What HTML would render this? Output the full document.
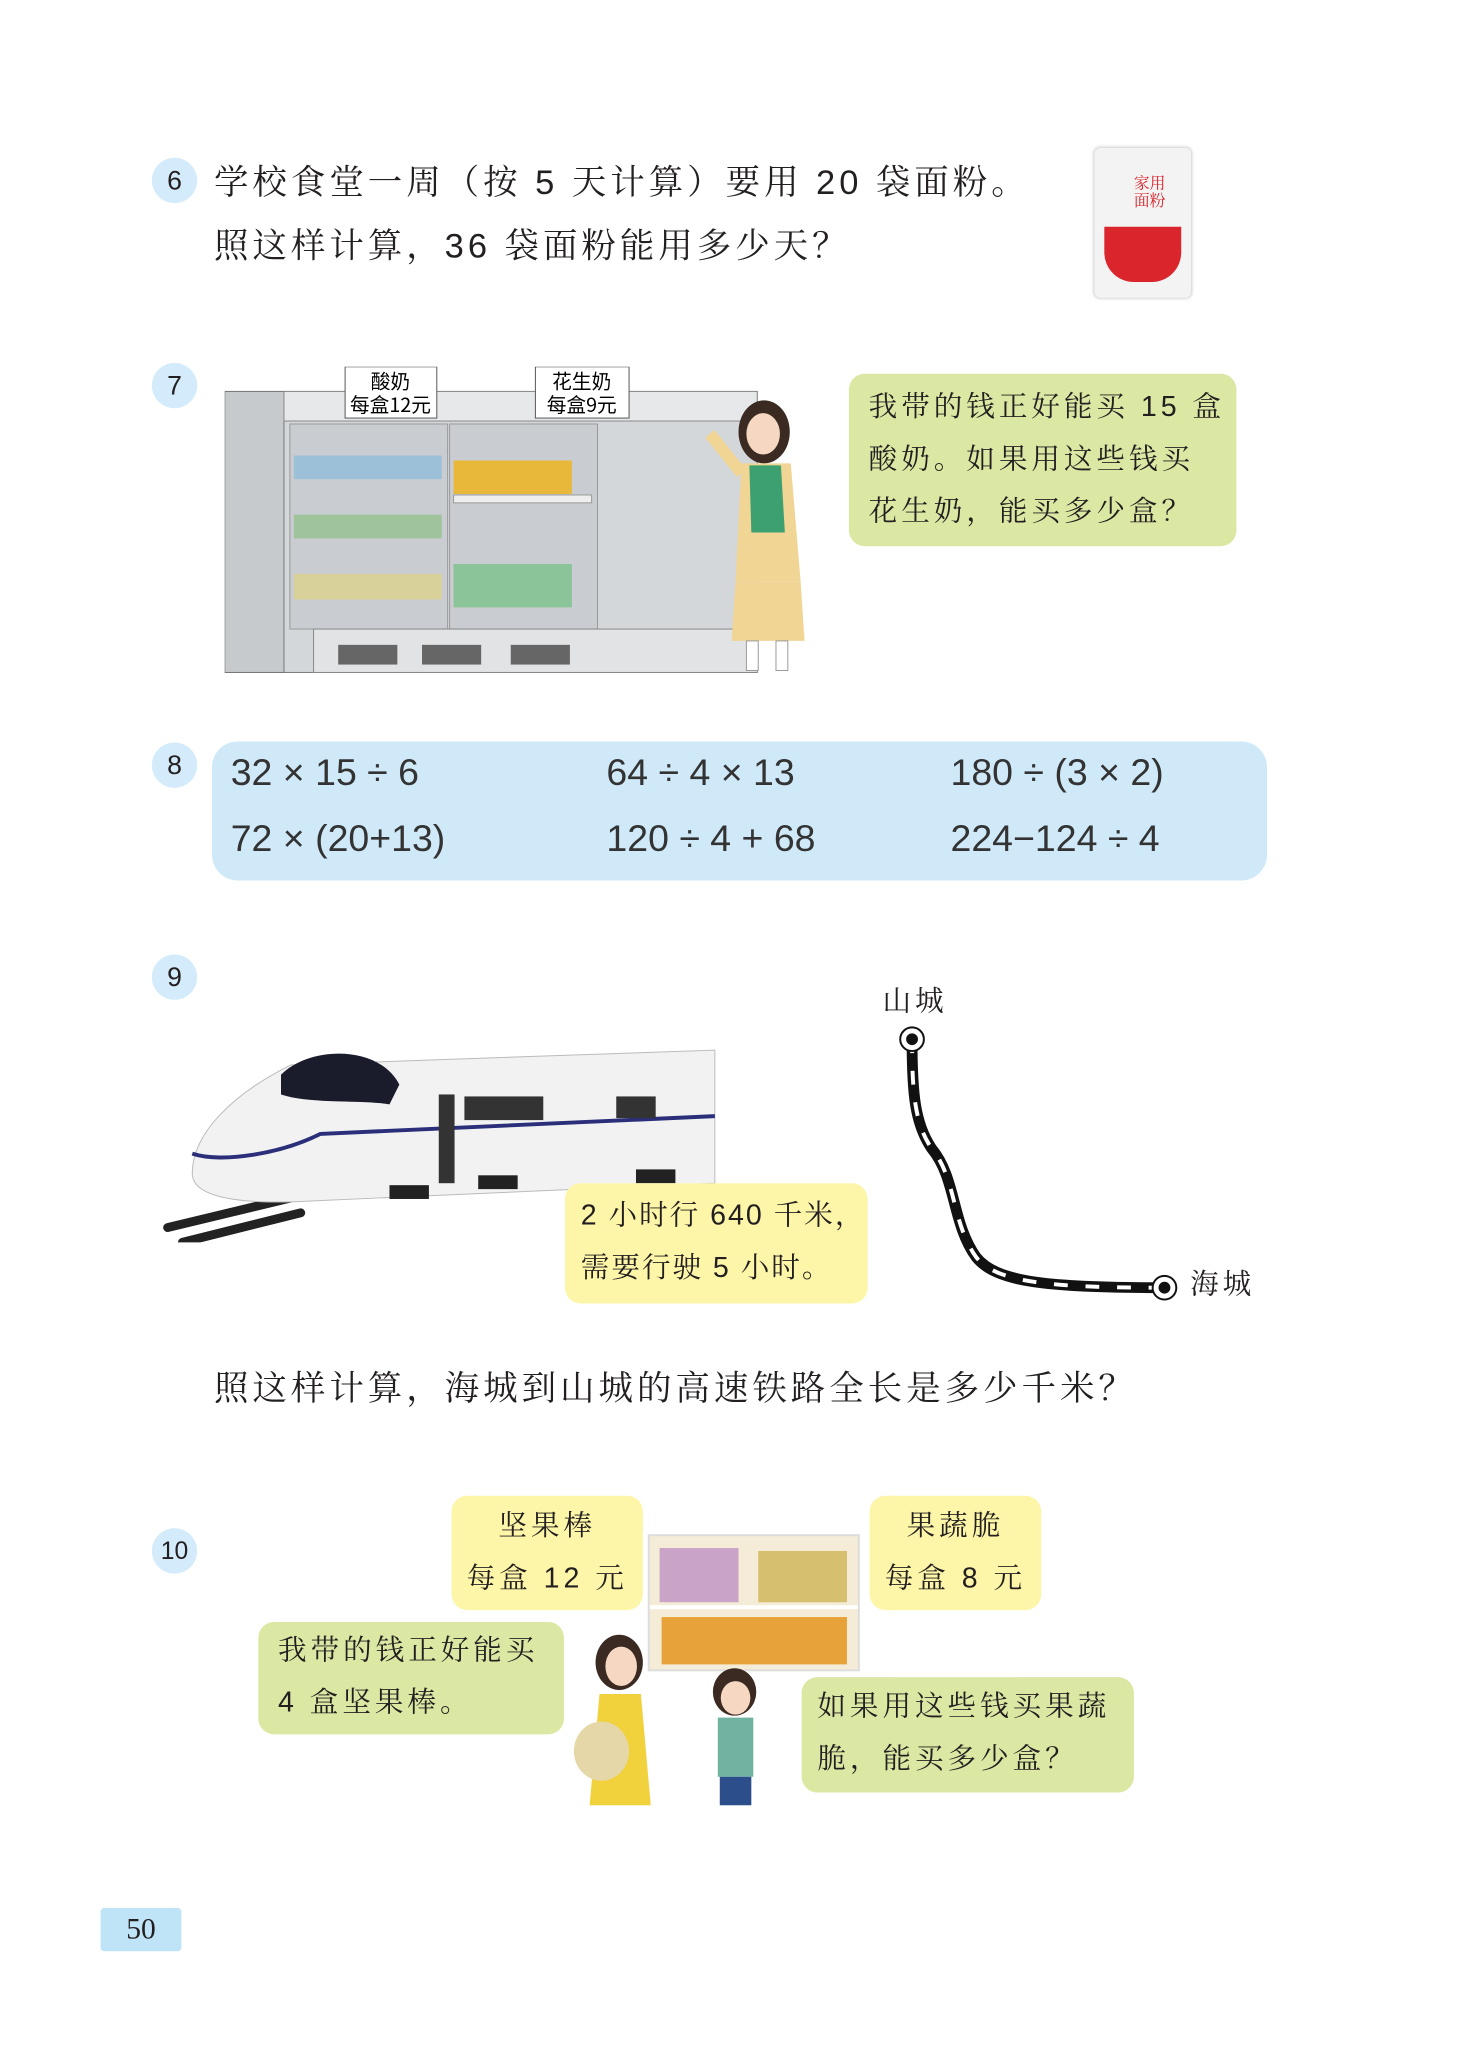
<!DOCTYPE html>
<html><head><meta charset="utf-8">
<style>
body{margin:0;background:#fff;}
#o{position:relative;width:1457px;height:2048px;overflow:hidden;background:#fff;}
#p{position:absolute;left:0;top:0;width:1457px;height:2048px;transform:scale(0.986);transform-origin:0 0;font-family:"Liberation Sans","Noto Serif CJK SC",serif;color:#231f20;}
.a{position:absolute;}
.num{position:absolute;width:46px;height:46px;border-radius:50%;background:#d3ebfa;font-family:"Liberation Sans",sans-serif;font-size:27px;text-align:center;line-height:46px;}
.t{position:absolute;font-size:35px;letter-spacing:4px;white-space:nowrap;font-family:"Liberation Sans","Noto Serif CJK SC",serif;}
.bub{position:absolute;border-radius:16px;font-size:29px;letter-spacing:4px;line-height:53px;white-space:nowrap;font-family:"Liberation Sans","Noto Serif CJK SC",serif;}
.g{background:#dbe8a4;}
.y{background:#fdf6a8;}
.m{position:absolute;font-size:38px;font-family:"Liberation Sans",sans-serif;white-space:nowrap;color:#333;}
</style></head><body><div id="o"><div id="p">

<div class="num" style="left:154px;top:160px;">6</div>
<div class="t" style="left:217px;top:158px;">学校食堂一周（按 5 天计算）要用 20 袋面粉。</div>
<div class="t" style="left:217px;top:222px;">照这样计算，36 袋面粉能用多少天？</div>
<div class="a" style="left:1110px;top:150px;width:98px;height:152px;background:#f3f3f3;border-radius:6px;box-shadow:0 0 4px #bbb;">
 <div class="a" style="left:10px;top:80px;width:78px;height:56px;background:#d9252b;border-radius:0 0 30px 30px;"></div>
 <div class="a" style="left:40px;top:28px;font-size:16px;color:#d9252b;line-height:18px;">家用<br>面粉</div>
</div>

<div class="num" style="left:154px;top:368px;">7</div>
<svg class="a" style="left:228px;top:372px" width="545" height="312">
 <rect x="0" y="25" width="540" height="285" fill="#d4d7da" stroke="#777"/>
 <rect x="0" y="25" width="60" height="285" fill="#c7cacd" stroke="#777"/>
 <rect x="60" y="25" width="480" height="30" fill="#e6e8ea" stroke="#888"/>
 <rect x="66" y="58" width="160" height="208" fill="#c9ccd0" stroke="#999"/>
 <rect x="228" y="58" width="150" height="208" fill="#c9ccd0" stroke="#999"/>
 <rect x="70" y="90" width="150" height="24" fill="#9cc0d8"/>
 <rect x="70" y="150" width="150" height="24" fill="#9fc39a"/>
 <rect x="70" y="210" width="150" height="26" fill="#d8d19a"/>
 <rect x="232" y="95" width="120" height="34" fill="#e8b83a"/>
 <rect x="232" y="130" width="140" height="8" fill="#eee" stroke="#999"/>
 <rect x="232" y="200" width="120" height="44" fill="#8cc49a"/>
 <rect x="90" y="266" width="450" height="44" fill="#e1e3e5" stroke="#888"/>
 <rect x="115" y="282" width="60" height="20" fill="#666"/><rect x="200" y="282" width="60" height="20" fill="#666"/><rect x="290" y="282" width="60" height="20" fill="#666"/>
 <rect x="122" y="0" width="93" height="52" fill="#fff" stroke="#555"/>
 <rect x="315" y="0" width="95" height="52" fill="#fff" stroke="#555"/>
 <text x="168" y="22" font-size="20" text-anchor="middle" font-family="Noto Sans CJK SC">酸奶</text>
 <text x="168" y="46" font-size="20" text-anchor="middle" font-family="Noto Sans CJK SC">每盒12元</text>
 <text x="362" y="22" font-size="20" text-anchor="middle" font-family="Noto Sans CJK SC">花生奶</text>
 <text x="362" y="46" font-size="20" text-anchor="middle" font-family="Noto Sans CJK SC">每盒9元</text>
</svg>
<svg class="a" style="left:712px;top:400px" width="130" height="290">
 <ellipse cx="63" cy="38" rx="26" ry="32" fill="#3a2a22"/>
 <ellipse cx="62" cy="40" rx="17" ry="21" fill="#f6d8c2"/>
 <path d="M40 70 L90 70 L100 190 L34 190 Z" fill="#f0d594"/>
 <path d="M48 72 L80 72 L84 140 L50 140 Z" fill="#3da070"/>
 <path d="M34 190 L100 190 L104 250 L30 250Z" fill="#f0d594"/>
 <rect x="45" y="250" width="12" height="30" fill="#fff" stroke="#999"/><rect x="75" y="250" width="12" height="30" fill="#fff" stroke="#999"/>
 <path d="M40 80 L8 40" stroke="#f0d594" stroke-width="12"/>
</svg>
<div class="bub g" style="left:861px;top:379px;width:393px;height:175px;padding:8px 0 0 20px;box-sizing:border-box;">我带的钱正好能买 15 盒<br>酸奶。如果用这些钱买<br>花生奶，能买多少盒？</div>

<div class="num" style="left:154px;top:753px;">8</div>
<div class="a" style="left:215px;top:752px;width:1070px;height:141px;background:#cfe9f9;border-radius:26px;"></div>
<div class="m" style="left:234px;top:763px;">32 × 15 ÷ 6</div>
<div class="m" style="left:615px;top:763px;">64 ÷ 4 × 13</div>
<div class="m" style="left:964px;top:763px;">180 ÷ (3 × 2)</div>
<div class="m" style="left:234px;top:830px;">72 × (20+13)</div>
<div class="m" style="left:615px;top:830px;">120 ÷ 4 + 68</div>
<div class="m" style="left:964px;top:830px;">224−124 ÷ 4</div>

<div class="num" style="left:154px;top:968px;">9</div>
<svg class="a" style="left:165px;top:1040px" width="570" height="220">
 <path d="M5 205 L130 175 M20 220 L140 190" stroke="#222" stroke-width="9" stroke-linecap="round"/>
 <path d="M30 150 C30 110 70 70 130 40 L560 25 L560 160 L150 178 C80 182 30 175 30 150Z" fill="#f2f2f2" stroke="#bbb"/>
 <path d="M120 50 C150 20 220 20 240 60 L230 80 C200 75 150 80 120 70Z" fill="#1a1c2c"/>
 <path d="M30 130 C60 140 120 130 160 110 L560 92" stroke="#2b2f7a" stroke-width="4" fill="none"/>
 <rect x="280" y="70" width="16" height="90" fill="#333"/>
 <rect x="306" y="72" width="80" height="24" fill="#333"/><rect x="460" y="72" width="40" height="22" fill="#333"/>
 <rect x="230" y="162" width="40" height="14" fill="#222"/><rect x="320" y="152" width="40" height="14" fill="#222"/><rect x="480" y="146" width="40" height="14" fill="#222"/>
</svg>
<div class="bub y" style="left:573px;top:1200px;width:307px;height:122px;padding:7px 0 0 16px;box-sizing:border-box;letter-spacing:2px;">2 小时行 640 千米，<br>需要行驶 5 小时。</div>
<svg class="a" style="left:900px;top:1030px" width="300" height="300">
 <path d="M25 24 C25 80 28 110 45 135 C70 165 65 210 90 245 C110 270 160 276 281 276" stroke="#111" stroke-width="11" fill="none"/>
 <path d="M25 24 C25 80 28 110 45 135 C70 165 65 210 90 245 C110 270 160 276 281 276" stroke="#fff" stroke-width="4" stroke-dasharray="14 18" fill="none"/>
 <circle cx="25" cy="24" r="12" fill="#fff" stroke="#111" stroke-width="2"/><circle cx="25" cy="24" r="6" fill="#111"/>
 <circle cx="281" cy="276" r="12" fill="#fff" stroke="#111" stroke-width="2"/><circle cx="281" cy="276" r="6" fill="#111"/>
</svg>
<div class="t" style="left:895px;top:993px;font-size:29px;">山城</div>
<div class="t" style="left:1207px;top:1280px;font-size:29px;">海城</div>
<div class="t" style="left:217px;top:1381px;">照这样计算，海城到山城的高速铁路全长是多少千米？</div>

<div class="num" style="left:154px;top:1550px;font-size:25px;">10</div>
<div class="bub y" style="left:458px;top:1517px;width:194px;height:116px;text-align:center;padding-top:5px;box-sizing:border-box;">坚果棒<br>每盒 12 元</div>
<div class="a" style="left:657px;top:1556px;width:215px;height:139px;background:#f4ecd6;border:2px solid #ddd;box-sizing:border-box;">
 <div class="a" style="left:10px;top:12px;width:80px;height:55px;background:#c9a4c8;"></div>
 <div class="a" style="left:110px;top:15px;width:90px;height:52px;background:#d6c070;"></div>
 <div class="a" style="left:0;top:70px;width:211px;height:4px;background:#fff;"></div>
 <div class="a" style="left:12px;top:82px;width:188px;height:48px;background:#e8a23a;"></div>
</div>
<div class="bub y" style="left:882px;top:1517px;width:174px;height:116px;text-align:center;padding-top:5px;box-sizing:border-box;">果蔬脆<br>每盒 8 元</div>
<div class="bub g" style="left:262px;top:1645px;width:310px;height:114px;padding:3px 0 0 20px;box-sizing:border-box;">我带的钱正好能买<br>4 盒坚果棒。</div>
<svg class="a" style="left:570px;top:1656px" width="230" height="175">
 <ellipse cx="58" cy="30" rx="24" ry="28" fill="#3a2a22"/><ellipse cx="60" cy="34" rx="16" ry="20" fill="#f6d8c2"/>
 <path d="M38 62 L80 62 L90 175 L28 175Z" fill="#f2d23c"/>
 <ellipse cx="40" cy="120" rx="28" ry="30" fill="#e6d7a8"/>
 <ellipse cx="175" cy="60" rx="22" ry="24" fill="#3a2a22"/><ellipse cx="176" cy="66" rx="15" ry="17" fill="#f6d8c2"/>
 <rect x="158" y="86" width="36" height="60" fill="#6fb3a0"/><rect x="160" y="146" width="32" height="29" fill="#2c4f8c"/>
</svg>
<div class="bub g" style="left:813px;top:1701px;width:337px;height:117px;padding:4px 0 0 16px;box-sizing:border-box;">如果用这些钱买果蔬<br>脆，能买多少盒？</div>

<div class="a" style="left:102px;top:1935px;width:82px;height:44px;background:#bfe3f7;border-radius:4px;font-family:'Liberation Serif',serif;font-size:30px;text-align:center;line-height:44px;">50</div>
</div></div></body></html>
